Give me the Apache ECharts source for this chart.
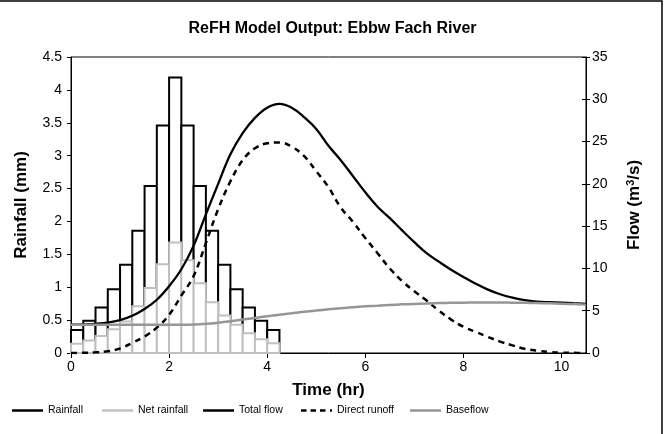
<!DOCTYPE html>
<html>
<head>
<meta charset="utf-8">
<script src="https://cdn.jsdelivr.net/npm/echarts@6/dist/echarts.min.js"></script>
<style>
html,body{margin:0;padding:0;background:#fff;}
#chart{width:665px;height:434px;}
</style>
</head>
<body>
<div id="chart"></div>
<script>
// ---- Data ----
const rainStep = 0.25; // hr, duration of each rainfall block
const rainStart = [0, 0.25, 0.5, 0.75, 1.0, 1.25, 1.5, 1.75, 2.0, 2.25, 2.5, 2.75, 3.0, 3.25, 3.5, 3.75, 4.0];
const rainfall = [0.35, 0.49, 0.69, 0.97, 1.34, 1.86, 2.54, 3.46, 4.19, 3.46, 2.54, 1.86, 1.34, 0.97, 0.69, 0.49, 0.35];
const netRainfall = [0.14, 0.19, 0.26, 0.36, 0.48, 0.71, 0.99, 1.35, 1.68, 1.41, 1.06, 0.77, 0.57, 0.43, 0.30, 0.21, 0.15];

const flowTime = [0, 0.25, 0.5, 0.75, 1.0, 1.25, 1.5, 1.75, 2.0, 2.25, 2.5, 2.75, 3.0, 3.25, 3.5, 3.75,
  4.0, 4.25, 4.5, 4.75, 5.0, 5.25, 5.5, 5.75, 6.0, 6.25, 6.5, 6.75, 7.0, 7.25, 7.5, 7.75,
  8.0, 8.25, 8.5, 8.75, 9.0, 9.25, 9.5, 9.75, 10.0, 10.25, 10.5];
const totalFlow = [3.35, 3.38, 3.45, 3.6, 3.9, 4.4, 5.2, 6.3, 7.9, 9.9, 12.7, 16.4, 20.0, 23.5, 26.0, 27.8,
  29.0, 29.45, 29.0, 27.9, 26.5, 24.5, 22.8, 20.9, 19.0, 17.3, 15.95, 14.5, 13.1, 11.8, 10.8, 9.85,
  9.0, 8.2, 7.5, 6.95, 6.55, 6.25, 6.08, 6.0, 5.95, 5.88, 5.82];
const directRunoff = [0, 0.02, 0.08, 0.2, 0.55, 1.2, 1.95, 3.0, 4.5, 6.8, 9.1, 13.0, 17.0, 20.3, 22.8, 24.2,
  24.8, 24.9, 24.4, 23.3, 21.5, 19.6, 17.2, 15.5, 13.6, 11.8, 10.0, 8.5, 7.3, 6.2, 5.0, 3.95,
  3.1, 2.5, 1.9, 1.35, 0.9, 0.5, 0.28, 0.13, 0.05, 0.02, 0];
const baseflow = [3.35, 3.35, 3.35, 3.35, 3.35, 3.35, 3.35, 3.35, 3.35, 3.35, 3.37, 3.45, 3.58, 3.75, 3.95, 4.15,
  4.35, 4.53, 4.7, 4.87, 5.02, 5.17, 5.3, 5.42, 5.52, 5.6, 5.68, 5.75, 5.8, 5.85, 5.9, 5.93,
  5.95, 5.96, 5.96, 5.96, 5.95, 5.93, 5.9, 5.87, 5.83, 5.78, 5.72];

const xTicks = [0, 2, 4, 6, 8, 10];

// ---- Chart ----
const FONT = 'Liberation Sans, Arial, sans-serif';
const chart = echarts.init(document.getElementById('chart'), null, {renderer: 'canvas'});

function barItems(values) {
  return rainStart.map((s, i) => [s, s + rainStep, values[i]]);
}
function barRender(stroke) {
  return function (params, api) {
    const p0 = api.coord([api.value(0), api.value(2)]);
    const p1 = api.coord([api.value(1), 0]);
    return {
      type: 'rect',
      shape: {x: p0[0], y: p0[1], width: p1[0] - p0[0], height: p1[1] - p0[1]},
      style: {fill: '#fff', stroke: stroke, lineWidth: 2}
    };
  };
}
const solidIcon = 'path://M0,0H31V2.5H0Z';
const dashIcon = 'path://M0,0H5.5V2.5H0ZM9.5,0H15V2.5H9.5ZM19,0H24.5V2.5H19ZM29,0H31V2.5H29Z';

const legendItems = [
  {name: 'Rainfall', icon: solidIcon, itemStyle: {color: '#000'}, left: 7},
  {name: 'Net rainfall', icon: solidIcon, itemStyle: {color: '#c0c0c0'}, left: 97},
  {name: 'Total flow', icon: solidIcon, itemStyle: {color: '#000'}, left: 198},
  {name: 'Direct runoff', icon: dashIcon, itemStyle: {color: '#000'}, left: 296},
  {name: 'Baseflow', icon: solidIcon, itemStyle: {color: '#969696'}, left: 405}
];

const option = {
  animation: false,
  backgroundColor: '#fff',
  textStyle: {fontFamily: FONT},
  title: {
    text: 'ReFH Model Output: Ebbw Fach River',
    left: 'center', top: 16,
    textStyle: {fontFamily: FONT, fontSize: 16, fontWeight: 'bold', color: '#000'}
  },
  graphic: [{
    type: 'rect', silent: true,
    shape: {x: -10, y: 1, width: 672, height: 500},
    style: {fill: 'none', stroke: '#000', lineWidth: 1.5}
  }],
  legend: legendItems.map(it => ({
    left: it.left, top: 400,
    itemWidth: 31, itemHeight: 2.5, itemGap: 0,
    textStyle: {fontFamily: FONT, fontSize: 10.5, color: '#000'},
    data: [{name: it.name, icon: it.icon, itemStyle: it.itemStyle}]
  })),
  grid: {left: 71, right: 79, top: 57, bottom: 81, show: true, borderColor: '#000', borderWidth: 1, backgroundColor: '#fff'},
  xAxis: {
    type: 'value', min: 0, max: 10.5,
    name: 'Time (hr)', nameLocation: 'middle', nameGap: 29,
    nameTextStyle: {fontFamily: FONT, fontSize: 17, fontWeight: 'bold', color: '#000'},
    axisLine: {lineStyle: {color: '#000', width: 1}},
    axisTick: {show: true, length: 5, lineStyle: {color: '#000'}, customValues: xTicks},
    axisLabel: {color: '#000', fontSize: 14, fontFamily: FONT, margin: 7, customValues: xTicks},
    splitLine: {show: false}
  },
  yAxis: [{
    type: 'value', min: 0, max: 4.5, interval: 0.5, position: 'left',
    name: 'Rainfall (mm)', nameLocation: 'middle', nameGap: 41, nameRotate: 90,
    nameTextStyle: {fontFamily: FONT, fontSize: 17, fontWeight: 'bold', color: '#000'},
    axisLine: {show: true, lineStyle: {color: '#000', width: 1}},
    axisTick: {show: true, length: 4, lineStyle: {color: '#000'}},
    axisLabel: {color: '#000', fontSize: 14, fontFamily: FONT, margin: 9},
    splitLine: {show: false}
  }, {
    type: 'value', min: 0, max: 35, interval: 5, position: 'right',
    name: 'Flow (m{sup|3}/s)', nameLocation: 'middle', nameGap: 39, nameRotate: 90,
    nameTextStyle: {fontFamily: FONT, fontSize: 17, fontWeight: 'bold', color: '#000',
      rich: {sup: {fontFamily: FONT, fontSize: 11, fontWeight: 'bold', color: '#000', verticalAlign: 'top', padding: [0, 0, 8, 0]}}},
    axisLine: {show: true, lineStyle: {color: '#000', width: 1}},
    axisTick: {show: true, length: 4, lineStyle: {color: '#000'}},
    axisLabel: {color: '#000', fontSize: 14, fontFamily: FONT, margin: 6},
    splitLine: {show: false}
  }, {
    type: 'value', min: 0, max: 35, interval: 5, position: 'right',
    axisLine: {show: false},
    axisTick: {show: true, inside: true, length: 4, lineStyle: {color: '#000'}},
    axisLabel: {show: false},
    splitLine: {show: false}
  }],
  series: [{
    name: 'Rainfall', type: 'custom', xAxisIndex: 0, yAxisIndex: 0,
    renderItem: barRender('#000'),
    encode: {x: [0, 1], y: 2},
    itemStyle: {color: '#000'},
    data: barItems(rainfall), z: 2
  }, {
    name: 'Net rainfall', type: 'custom', xAxisIndex: 0, yAxisIndex: 0,
    renderItem: barRender('#c0c0c0'),
    encode: {x: [0, 1], y: 2},
    itemStyle: {color: '#c0c0c0'},
    data: barItems(netRainfall), z: 3
  }, {
    name: 'Total flow', type: 'line', yAxisIndex: 1, smooth: 0.4, symbol: 'none',
    lineStyle: {color: '#000', width: 2.3}, itemStyle: {color: '#000'},
    data: flowTime.map((t, i) => [t, totalFlow[i]]), z: 4
  }, {
    name: 'Direct runoff', type: 'line', yAxisIndex: 1, smooth: 0.4, symbol: 'none',
    lineStyle: {color: '#000', width: 2.5, type: [6, 5]}, itemStyle: {color: '#000'},
    data: flowTime.map((t, i) => [t, directRunoff[i]]), z: 5
  }, {
    name: 'Baseflow', type: 'line', yAxisIndex: 1, smooth: 0.4, symbol: 'none',
    lineStyle: {color: '#969696', width: 2.5}, itemStyle: {color: '#969696'},
    data: flowTime.map((t, i) => [t, baseflow[i]]), z: 6
  }]
};
chart.setOption(option);
</script>
</body>
</html>
